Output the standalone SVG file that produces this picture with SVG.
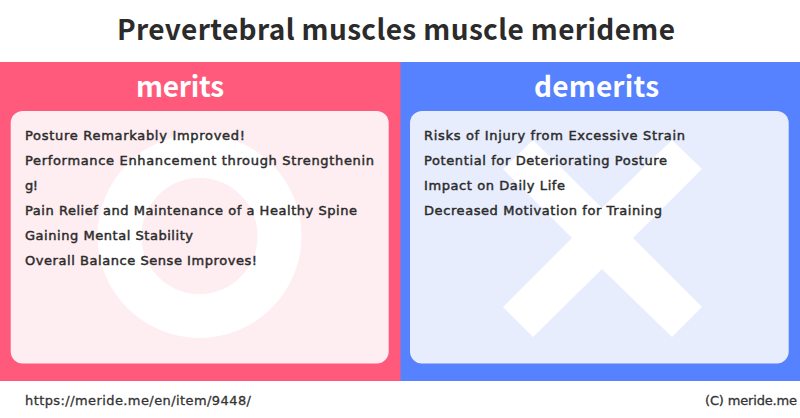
<svg xmlns="http://www.w3.org/2000/svg" width="800" height="418" viewBox="0 0 800 418">
<style>
.t{font-family:"Noto Sans CJK JP","Noto Sans",sans-serif;font-weight:700}
.h{font-size:28px;fill:#fff;font-weight:600}
.b{font-family:"DejaVu Sans",sans-serif;font-size:13px;font-weight:500;fill:#2b2b2b;stroke:#2b2b2b;stroke-width:.45px}
.f{font-family:"DejaVu Sans",sans-serif;font-size:13px;fill:#333;stroke:#333;stroke-width:.3px}
</style>
<rect width="800" height="418" fill="#fff"/>
<text class="t" x="117" y="40" font-size="28" textLength="558" fill="#2b2b2b">Prevertebral muscles muscle merideme</text>
<g id="merits">
<rect x="0" y="62" width="401" height="319" fill="#ff5a7b"/>
<rect x="10.7" y="111" width="378" height="252.5" rx="12" fill="#feedf1"/>
<circle cx="199.5" cy="236" r="80" fill="none" stroke="#fff" stroke-width="44"/>
<text class="t h" x="136" y="97" textLength="88">merits</text>
<g class="b">
<text x="25" y="140" textLength="220">Posture Remarkably Improved!</text>
<text x="25" y="165" textLength="349">Performance Enhancement through Strengthenin</text>
<text x="25" y="190" textLength="13">g!</text>
<text x="25" y="215" textLength="332">Pain Relief and Maintenance of a Healthy Spine</text>
<text x="25" y="240" textLength="168">Gaining Mental Stability</text>
<text x="25" y="265" textLength="232">Overall Balance Sense Improves!</text>
</g>
</g>
<g id="demerits">
<rect x="400.5" y="62" width="399.5" height="319" fill="#5681ff"/>
<rect x="410" y="111" width="378.7" height="252.5" rx="12" fill="#e7edfd"/>
<path d="M533 140 L602 208 L672 140 L702 169 L633 238 L702 307 L672 337 L602 269 L533 337 L503 307 L572 238 L503 169Z" fill="#fff"/>
<text class="t h" x="534" y="97" textLength="125">demerits</text>
<g class="b">
<text x="424" y="140" textLength="261">Risks of Injury from Excessive Strain</text>
<text x="424" y="165" textLength="243">Potential for Deteriorating Posture</text>
<text x="424" y="190" textLength="141">Impact on Daily Life</text>
<text x="424" y="215" textLength="238">Decreased Motivation for Training</text>
</g>
</g>
<g id="footer">
<text class="f" x="25" y="405" textLength="226">https://meride.me/en/item/9448/</text>
<text class="f" x="705" y="405" textLength="92">(C) meride.me</text>
</g>
</svg>
